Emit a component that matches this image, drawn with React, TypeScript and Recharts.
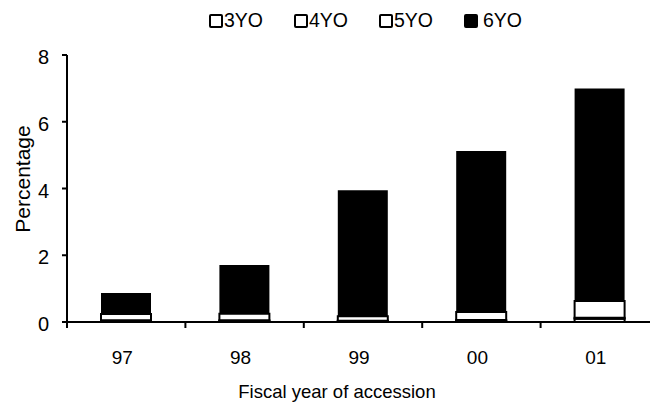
import React from 'react';
import { BarChart, Bar, XAxis, YAxis, Legend } from 'recharts';

const years = ['97', '98', '99', '00', '01'];
const yo3 = [0.02, 0.02, 0.02, 0.03, 0.1];
const yo4 = [0.03, 0.03, 0.02, 0.03, 0.03];
const yo5 = [0.19, 0.2, 0.13, 0.24, 0.5];
const yo6 = [0.63, 1.46, 3.78, 4.82, 6.37];
const seriesNames = ['3YO', '4YO', '5YO', '6YO'];
const yTicks = [0, 2, 4, 6, 8];

const data = years.map((y, i) => ({
  year: y,
  '3YO': yo3[i],
  '4YO': yo4[i],
  '5YO': yo5[i],
  '6YO': yo6[i],
}));

const FONT = '"Liberation Sans", Arial, sans-serif';

const XTick = (props: any) => {
  const { x, y, payload, width, visibleTicksCount } = props;
  const band = width && visibleTicksCount ? width / visibleTicksCount : 118.4;
  const bx = x - band / 2;
  return (
    <g>
      <line x1={bx} y1={y} x2={bx} y2={y + 6} stroke="#000" strokeWidth={2} />
      <text x={x - 4} y={y + 35} textAnchor="middle" dominantBaseline="central" fontSize={19} fill="#000" fontFamily={FONT}>
        {payload.value}
      </text>
    </g>
  );
};

const LegendContent = (props: any) => {
  const { payload } = props;
  return (
    <div style={{ display: 'flex', fontFamily: FONT, fontSize: 19.5, color: '#000' }}>
      {payload.map((p: any, i: number) => (
        <div key={i} style={{ display: 'flex', alignItems: 'center', width: 85 }}>
          <span
            style={{
              display: 'inline-block',
              width: 10,
              height: 10,
              border: '2px solid #000',
              borderRadius: 2,
              background: p.value === '6YO' ? '#000' : '#fff',
              marginRight: p.value === '6YO' ? 5 : 1,
            }}
          />
          <span>{p.value}</span>
        </div>
      ))}
    </div>
  );
};

export default function App() {
  return (
    <div style={{ position: 'absolute', top: 0, left: 0, width: 650, height: 403, overflow: 'hidden', background: '#fff' }}>
      <BarChart
        width={660}
        height={403}
        data={data}
        margin={{ top: 55, right: 1, bottom: 0, left: 0 }}
        barSize={50}
      >
        <XAxis
          dataKey="year"
          height={81}
          tickLine={false}
          tickSize={0}
          tickMargin={0}
          axisLine={{ stroke: '#000', strokeWidth: 2 }}
          tick={<XTick />}
          interval={0}
          label={{
            content: (p: any) => {
              const vb = p.viewBox;
              return (
                <text x={vb.x + vb.width / 2 - 26} y={391} textAnchor="middle" dominantBaseline="central" fontSize={18.5} fill="#000" fontFamily={FONT}>
                  Fiscal year of accession
                </text>
              );
            },
          }}
        />
        <YAxis
          width={67}
          domain={[0, 8]}
          ticks={yTicks}
          interval={0}
          tickSize={5}
          tickMargin={13}
          axisLine={{ stroke: '#000', strokeWidth: 2 }}
          tickLine={{ stroke: '#000', strokeWidth: 2 }}
          tick={{ fontSize: 20, fill: '#000', fontFamily: FONT, dy: 2 }}
          label={{
            content: () => (
              <text x={22} y={179} transform="rotate(-90 22 179)" textAnchor="middle" dominantBaseline="central" fontSize={21} fill="#000" fontFamily={FONT}>
                Percentage
              </text>
            ),
          }}
        />
        <Legend
          verticalAlign="middle"
          align="center"
          layout="horizontal"
          wrapperStyle={{ top: 9, left: 209, width: 340 }}
          content={<LegendContent />}
        />
        {seriesNames.map((n) => (
          <Bar
            key={n}
            dataKey={n}
            stackId="a"
            fill={n === '6YO' ? '#000' : '#fff'}
            stroke="#000"
            strokeWidth={n === '6YO' ? 0 : 2}
            isAnimationActive={false}
          />
        ))}
      </BarChart>
    </div>
  );
}
